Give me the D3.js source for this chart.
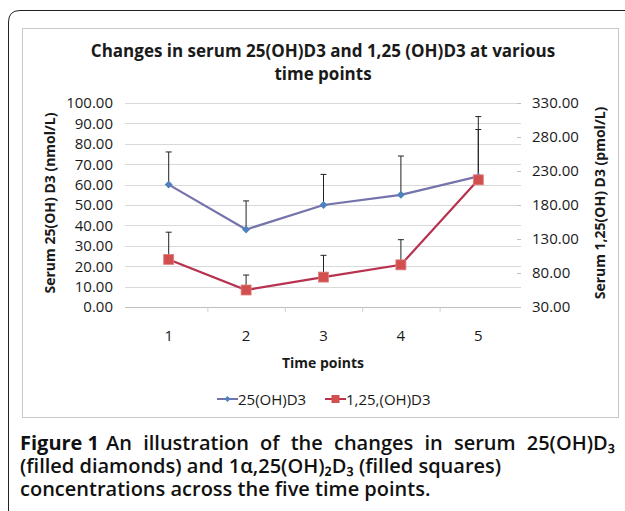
<!DOCTYPE html>
<html>
<head>
<meta charset="utf-8">
<script src="https://cdn.jsdelivr.net/npm/d3@7"></script>
<style>
  body { margin: 0; background: #fff; }
  svg { display: block; }
</style>
</head>
<body>
<svg id="chart" width="625" height="511"></svg>
<script>
const timePoints = ["1", "2", "3", "4", "5"];
const d25 = [60, 38, 50, 55, 64];
const d25Err = [16, 14, 15, 19, 23];
const d125 = [100, 55, 74, 92, 217];
const d125Err = [40, 22, 32, 37, 93];
const leftTicks = [0, 10, 20, 30, 40, 50, 60, 70, 80, 90, 100];
const rightTicks = [30, 80, 130, 180, 230, 280, 330];

const svg = d3.select("#chart");
const chartFont = "'Open Sans', sans-serif";

// outer frame of the figure with rounded top-left corner
svg.append("path")
    .attr("d", "M8.5,511 L8.5,22 Q8.5,10.5 20,10.5 L625,10.5")
    .attr("fill", "none")
    .attr("stroke", "#222")
    .attr("stroke-width", 1);

// chart box
svg.append("rect")
    .attr("x", 22.5).attr("y", 28.5)
    .attr("width", 596).attr("height", 389)
    .attr("fill", "#fff")
    .attr("stroke", "#c8c8c8");

const x = d3.scaleBand().domain(timePoints).range([130, 517]);
const yL = d3.scaleLinear().domain([0, 100]).range([307, 103]);
const yR = d3.scaleLinear().domain([30, 330]).range([307, 103]);
const fmt = d3.format(".2f");

// gridlines
svg.append("g")
    .selectAll("line")
    .data(leftTicks.slice(1))
    .join("line")
    .attr("x1", 125).attr("x2", 521)
    .attr("y1", d => Math.round(yL(d)) + 0.5)
    .attr("y2", d => Math.round(yL(d)) + 0.5)
    .attr("stroke", "#d9d9d9");

// left axis
const leftAxis = svg.append("g")
    .attr("transform", "translate(125,0)")
    .call(d3.axisLeft(yL).tickValues(leftTicks).tickFormat(fmt).tickSize(0).tickPadding(12));
leftAxis.select(".domain").remove();
leftAxis.selectAll("text")
    .attr("font-family", chartFont).attr("font-size", 15).attr("fill", "#1a1a1a");

// right axis
const rightAxis = svg.append("g")
    .attr("transform", "translate(517,0)")
    .call(d3.axisRight(yR).tickValues(rightTicks).tickFormat(fmt).tickSize(4).tickPadding(11));
rightAxis.select(".domain").remove();
rightAxis.selectAll("line").attr("stroke", "#bfbfbf");
rightAxis.selectAll("text")
    .attr("font-family", chartFont).attr("font-size", 15).attr("fill", "#1a1a1a");

// bottom axis
const bottomAxis = svg.append("g")
    .attr("transform", "translate(0,307)")
    .call(d3.axisBottom(x).tickSize(0).tickPadding(23));
bottomAxis.select(".domain").attr("stroke", "#bfbfbf").attr("d", "M125,0.5H521");
bottomAxis.selectAll("text")
    .attr("font-family", chartFont).attr("font-size", 15).attr("fill", "#1a1a1a");
svg.append("g")
    .selectAll("line")
    .data(timePoints.slice(1))
    .join("line")
    .attr("x1", d => x(d) + 0.5).attr("x2", d => x(d) + 0.5)
    .attr("y1", 307).attr("y2", 312)
    .attr("stroke", "#d0d0d0");

// error bars (upper only)
function errorBars(values, errs, scale) {
    const g = svg.append("g").attr("stroke", "#222").attr("stroke-width", 1);
    values.forEach((v, i) => {
        const cx = x(timePoints[i]) + x.bandwidth() / 2;
        const top = scale(v + errs[i]);
        g.append("line").attr("x1", cx).attr("x2", cx).attr("y1", scale(v)).attr("y2", top);
        g.append("line").attr("x1", cx - 3).attr("x2", cx + 3).attr("y1", top).attr("y2", top);
    });
}
errorBars(d25, d25Err, yL);
errorBars(d125, d125Err, yR);

const cx = (d, i) => x(timePoints[i]) + x.bandwidth() / 2;

// 25(OH)D3 line
svg.append("path")
    .datum(d25)
    .attr("fill", "none")
    .attr("stroke", "#7573ab")
    .attr("stroke-width", 2.2)
    .attr("d", d3.line().x(cx).y(d => yL(d)));
svg.append("g")
    .selectAll("path")
    .data(d25)
    .join("path")
    .attr("transform", (d, i) => `translate(${cx(d, i)},${yL(d)})`)
    .attr("d", d3.symbol(d3.symbolDiamond2, 40))
    .attr("fill", "#4f81bd");

// 1,25(OH)D3 line
svg.append("path")
    .datum(d125)
    .attr("fill", "none")
    .attr("stroke", "#b8324f")
    .attr("stroke-width", 2.2)
    .attr("d", d3.line().x(cx).y(d => yR(d)));
svg.append("g")
    .selectAll("rect")
    .data(d125)
    .join("rect")
    .attr("x", (d, i) => cx(d, i) - 5)
    .attr("y", d => yR(d) - 5)
    .attr("width", 10).attr("height", 10)
    .attr("fill", "#d24f4f")
    .attr("stroke", "#e08080")
    .attr("stroke-width", 0.8);

// titles
const title = svg.append("text")
    .attr("text-anchor", "middle")
    .attr("font-family", chartFont)
    .attr("font-weight", "bold")
    .attr("font-size", 17)
    .attr("fill", "#1a1a1a");
title.append("tspan").attr("x", 323).attr("y", 57).text("Changes in serum 25(OH)D3 and 1,25 (OH)D3 at various");
title.append("tspan").attr("x", 323).attr("y", 80).text("time points");

svg.append("text")
    .attr("transform", "translate(55,203) rotate(-90)")
    .attr("text-anchor", "middle")
    .attr("font-family", chartFont).attr("font-weight", "bold").attr("font-size", 14)
    .attr("fill", "#1a1a1a")
    .text("Serum 25(OH) D3 (nmol/L)");

svg.append("text")
    .attr("transform", "translate(605,203) rotate(-90)")
    .attr("text-anchor", "middle")
    .attr("font-family", chartFont).attr("font-weight", "bold").attr("font-size", 14)
    .attr("fill", "#1a1a1a")
    .text("Serum 1,25(OH) D3 (pmol/L)");

svg.append("text")
    .attr("x", 323).attr("y", 368)
    .attr("text-anchor", "middle")
    .attr("font-family", chartFont).attr("font-weight", "bold").attr("font-size", 14)
    .attr("fill", "#1a1a1a")
    .text("Time points");

// legend
const legendItems = [
    { label: "25(OH)D3", line: "#7573ab", fill: "#4f81bd", shape: "diamond", x: 217 },
    { label: "1,25,(OH)D3", line: "#b8324f", fill: "#d24f4f", shape: "square", x: 325 }
];
const legend = svg.append("g").attr("transform", "translate(0,399)");
legendItems.forEach(it => {
    const g = legend.append("g").attr("transform", `translate(${it.x},0)`);
    g.append("line").attr("x1", 0).attr("x2", 21).attr("stroke", it.line).attr("stroke-width", 2);
    if (it.shape === "diamond") {
        g.append("path").attr("transform", "translate(10.5,0)").attr("d", d3.symbol(d3.symbolDiamond2, 24)).attr("fill", it.fill);
    } else {
        g.append("rect").attr("x", 6.5).attr("y", -4).attr("width", 8).attr("height", 8).attr("fill", it.fill);
    }
    g.append("text").attr("x", 21).attr("y", 5.5)
        .attr("font-family", chartFont).attr("font-size", 15).attr("fill", "#1a1a1a")
        .text(it.label);
});

// caption, first line justified to the right edge
const capText = (xPos, yPos, str, weight) => svg.append("text")
    .attr("x", xPos).attr("y", yPos)
    .attr("font-family", chartFont).attr("font-size", 20)
    .attr("font-weight", weight).attr("fill", "#111")
    .text(str);

const figLabel = capText(20, 450, "Figure 1", "bold");
const labelEnd = 20 + figLabel.node().getComputedTextLength();
const rest = "An illustration of the changes in serum 25(OH)D\u2083";
const restText = capText(labelEnd + 7, 450, rest, 600);
const restW = restText.node().getComputedTextLength();
const gaps = rest.split(" ").length - 1;
restText.attr("word-spacing", Math.max(0, (615 - (labelEnd + 7) - restW) / gaps));

capText(20, 473, "(filled diamonds) and 1\u03b1,25(OH)\u2082D\u2083 (filled squares)", 600);
capText(20, 496, "concentrations across the five time points.", 600);
</script>
</body>
</html>
